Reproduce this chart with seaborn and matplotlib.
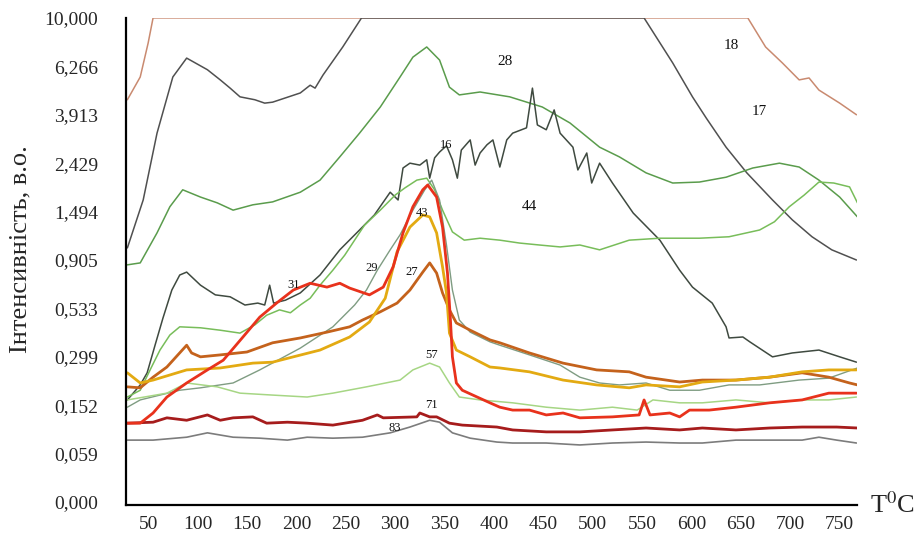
import numpy as np
import pandas as pd
import seaborn as sns
import matplotlib.pyplot as plt
from matplotlib.ticker import MultipleLocator

# y positions are in chart levels (0..10), labelled with the intensity values below
y_tick_labels = ['0,000', '0,059', '0,152', '0,299', '0,533', '0,905',
                 '1,494', '2,429', '3,913', '6,266', '10,000']

# curve 18
t18 = [29, 42, 50, 55, 657, 675, 692, 709, 719, 729, 750, 767]
p18 = [8.31, 8.78, 9.48, 10.0, 10.0, 9.40, 9.07, 8.72, 8.76, 8.51, 8.24, 8.00]

# curve 17
t17 = [29, 45, 59, 75, 89, 110, 123, 133, 143, 158, 168, 176, 204, 214, 219,
       227, 247, 266, 552, 581, 601, 615, 635, 656, 682, 702, 722, 742, 767]
p17 = [5.25, 6.24, 7.62, 8.78, 9.17, 8.93, 8.72, 8.55, 8.37, 8.31, 8.24, 8.26, 8.45, 8.61, 8.55,
       8.82, 9.40, 10.0, 10.0, 9.07, 8.37, 7.93, 7.33, 6.80, 6.24, 5.83, 5.48, 5.21, 5.00]

# curve 28
t28 = [29, 42, 59, 72, 85, 103, 120, 136, 156, 176, 204, 224, 244, 264, 285, 305, 318, 332, 345,
       355, 365, 386, 416, 449, 477, 507, 527, 554, 581, 608, 635, 662, 689, 709, 729, 750, 768]
p28 = [4.90, 4.94, 5.56, 6.10, 6.45, 6.30, 6.18, 6.03, 6.14, 6.20, 6.40, 6.65, 7.13, 7.62, 8.16, 8.78, 9.19, 9.40, 9.13,
       8.57, 8.41, 8.47, 8.37, 8.16, 7.83, 7.33, 7.13, 6.80, 6.59, 6.61, 6.71, 6.90, 7.00, 6.92, 6.65, 6.30, 5.89]

# curve 16
t16 = [29, 42, 49, 57, 65, 74, 82, 89, 103, 118, 133, 148, 161, 168, 173, 177, 189, 204, 224, 244,
       264, 279, 295, 303, 308, 315, 325, 332, 335, 340, 345, 352, 358, 363, 367, 376, 381, 386, 393, 399,
       406, 413, 419, 433, 439, 444, 453, 461, 467, 480, 485, 494, 499, 507, 520, 541, 568, 588, 601, 621,
       635, 638, 652, 659, 682, 702, 729, 750, 767]
p16 = [2.11, 2.42, 2.67, 3.24, 3.80, 4.38, 4.69, 4.75, 4.48, 4.28, 4.24, 4.07, 4.11, 4.07, 4.48, 4.11, 4.17, 4.32, 4.69, 5.21,
       5.62, 5.93, 6.40, 6.24, 6.90, 7.00, 6.96, 7.07, 6.69, 7.11, 7.23, 7.36, 7.07, 6.69, 7.27, 7.48, 6.96, 7.21, 7.38, 7.48,
       6.92, 7.48, 7.62, 7.73, 8.55, 7.79, 7.69, 8.10, 7.62, 7.33, 6.86, 7.21, 6.59, 7.00, 6.59, 5.97, 5.41, 4.79, 4.44, 4.11,
       3.62, 3.39, 3.41, 3.31, 3.00, 3.08, 3.14, 3.00, 2.89]

# curve 44
t44 = [29, 42, 52, 62, 72, 82, 103, 123, 143, 158, 170, 183, 194, 204, 214, 224, 237, 249, 259, 269,
       285, 300, 310, 322, 332, 340, 348, 358, 370, 386, 406, 426, 446, 467, 487, 507, 522, 537, 568, 608,
       638, 669, 684, 699, 714, 729, 744, 760, 768]
p44 = [2.17, 2.31, 2.73, 3.14, 3.45, 3.62, 3.60, 3.55, 3.49, 3.66, 3.86, 3.97, 3.91, 4.07, 4.21, 4.48, 4.79, 5.10, 5.41, 5.72,
       6.03, 6.34, 6.49, 6.65, 6.69, 6.45, 6.03, 5.58, 5.41, 5.45, 5.41, 5.35, 5.31, 5.27, 5.31, 5.21, 5.31, 5.41, 5.45, 5.45,
       5.48, 5.62, 5.79, 6.10, 6.34, 6.61, 6.59, 6.51, 6.18]

# curve 29
t29 = [29, 42, 62, 82, 103, 136, 163, 204, 237, 259, 271, 282, 295, 305, 318, 330, 337, 345, 352, 358,
       365, 376, 396, 406, 436, 467, 487, 507, 527, 554, 578, 608, 638, 669, 709, 739, 768]
p29 = [1.96, 2.11, 2.21, 2.31, 2.36, 2.46, 2.73, 3.18, 3.62, 4.07, 4.38, 4.79, 5.21, 5.52, 6.03, 6.45, 6.65, 6.24, 5.31, 4.38,
       3.76, 3.51, 3.31, 3.24, 3.04, 2.83, 2.58, 2.46, 2.42, 2.46, 2.31, 2.31, 2.42, 2.42, 2.52, 2.56, 2.77]

# curve 57
t57 = [29, 69, 89, 120, 143, 176, 211, 237, 271, 305, 318, 335, 345, 355, 365, 386, 419, 453, 487, 520,
       545, 561, 588, 611, 645, 679, 712, 739, 767]
p57 = [2.11, 2.25, 2.46, 2.38, 2.25, 2.21, 2.17, 2.25, 2.38, 2.52, 2.73, 2.87, 2.79, 2.46, 2.17, 2.11, 2.05, 1.96, 1.90, 1.96,
       1.90, 2.11, 2.05, 2.05, 2.11, 2.05, 2.11, 2.11, 2.17]

# curve 83
t83 = [29, 55, 89, 110, 136, 163, 191, 211, 237, 267, 295, 315, 335, 345, 358, 376, 403, 419, 453, 487,
       520, 554, 588, 611, 645, 679, 712, 729, 747, 767]
p83 = [1.28, 1.28, 1.34, 1.43, 1.34, 1.32, 1.28, 1.34, 1.32, 1.34, 1.43, 1.55, 1.69, 1.65, 1.43, 1.32, 1.24, 1.22, 1.22, 1.18,
       1.22, 1.24, 1.22, 1.22, 1.28, 1.28, 1.28, 1.34, 1.28, 1.22]

# curve 71
t71 = [29, 55, 69, 89, 110, 123, 136, 156, 170, 191, 211, 237, 267, 282, 288, 322, 325, 335, 342, 355,
       368, 403, 419, 453, 487, 520, 554, 588, 611, 645, 679, 712, 747, 768]
p71 = [1.63, 1.65, 1.74, 1.69, 1.80, 1.69, 1.74, 1.76, 1.63, 1.65, 1.63, 1.59, 1.69, 1.80, 1.74, 1.76, 1.84, 1.76, 1.76, 1.63,
       1.59, 1.55, 1.49, 1.45, 1.45, 1.49, 1.53, 1.49, 1.53, 1.49, 1.53, 1.55, 1.55, 1.53]

# curve 27
t27 = [29, 42, 55, 69, 89, 94, 103, 123, 150, 176, 204, 231, 254, 267, 285, 302, 315, 328, 335, 342,
       348, 355, 362, 376, 396, 406, 436, 470, 504, 537, 554, 588, 611, 645, 679, 712, 739, 760, 768]
p27 = [2.38, 2.36, 2.58, 2.79, 3.24, 3.08, 3.00, 3.04, 3.10, 3.29, 3.39, 3.51, 3.62, 3.76, 3.93, 4.11, 4.38, 4.75, 4.94, 4.73,
       4.32, 3.97, 3.70, 3.55, 3.35, 3.29, 3.08, 2.87, 2.73, 2.69, 2.58, 2.48, 2.52, 2.52, 2.58, 2.67, 2.58, 2.46, 2.42]

# curve 43
t43 = [29, 42, 55, 89, 123, 156, 176, 197, 224, 254, 274, 290, 302, 315, 328, 335, 342, 348, 352, 355,
       362, 376, 396, 406, 436, 470, 504, 537, 554, 588, 611, 645, 679, 712, 739, 767]
p43 = [2.67, 2.46, 2.52, 2.73, 2.77, 2.87, 2.89, 3.00, 3.14, 3.41, 3.72, 4.21, 5.17, 5.68, 5.93, 5.89, 5.56, 4.86, 4.32, 3.49,
       3.14, 3.00, 2.79, 2.77, 2.69, 2.52, 2.42, 2.36, 2.42, 2.38, 2.48, 2.52, 2.58, 2.69, 2.73, 2.73]

# curve 31
t31 = [29, 42, 55, 69, 89, 110, 126, 146, 163, 180, 197, 214, 231, 244, 254, 274, 288, 298, 308, 318,
       328, 333, 342, 348, 353, 356, 358, 362, 368, 383, 396, 406, 419, 436, 453, 470, 487, 520, 547, 552,
       558, 578, 588, 598, 618, 645, 679, 712, 739, 767]
p31 = [1.63, 1.63, 1.84, 2.17, 2.46, 2.73, 2.93, 3.41, 3.82, 4.11, 4.38, 4.52, 4.44, 4.52, 4.42, 4.28, 4.44, 4.86, 5.56, 6.10,
       6.45, 6.55, 6.30, 5.68, 4.73, 3.76, 3.00, 2.46, 2.31, 2.17, 2.05, 1.96, 1.90, 1.90, 1.80, 1.84, 1.74, 1.76, 1.80, 2.11,
       1.80, 1.84, 1.76, 1.90, 1.90, 1.96, 2.05, 2.11, 2.25, 2.25]

# curve labels and where they sit
label_text = ['18', '17', '28', '16', '44', '43', '29', '27', '31', '57', '71', '83']
label_t = [640, 669, 411, 352, 436, 327, 276, 317, 197, 337, 337, 300]
label_p = [9.44, 8.06, 9.09, 7.38, 6.10, 5.97, 4.83, 4.75, 4.48, 3.04, 2.00, 1.53]
label_size = [11, 11, 11, 9, 11, 9, 9, 9, 9, 9, 9, 9]

curves = [
    (t18, p18, '#c98a70', 1.1),
    (t17, p17, '#505050', 1.1),
    (t28, p28, '#5a9c4c', 1.1),
    (t16, p16, '#3f4a40', 1.1),
    (t44, p44, '#78bd5a', 1.1),
    (t29, p29, '#7f9c82', 1.0),
    (t57, p57, '#a6d684', 1.1),
    (t83, p83, '#7c7c7c', 1.2),
    (t71, p71, '#a61c1c', 2.0),
    (t27, p27, '#c4621c', 2.0),
    (t43, p43, '#e3aa12', 2.0),
    (t31, p31, '#e8321c', 2.0),
]

sns.set_style("white")
serif = ['Liberation Serif', 'DejaVu Serif']
plt.rcParams['font.family'] = serif
plt.rcParams['mathtext.fontset'] = 'stix'

fig = plt.figure(figsize=(9.19, 5.43), dpi=100)
ax = fig.add_axes([0.137, 0.070, 0.7955, 0.897])

for t, p, c, lw in curves:
    sns.lineplot(x=t, y=p, color=c, linewidth=lw, estimator=None, sort=False, ax=ax)

for txt, tx, py, fs in zip(label_text, label_t, label_p, label_size):
    ax.text(tx, py, txt, fontsize=fs, ha='center', va='center', color='#111111')

ax.set_xlim(27.5, 767.5)
ax.set_ylim(-0.06, 10.0)
ax.set_yticks(range(len(y_tick_labels)))
ax.set_yticklabels(y_tick_labels)
ax.xaxis.set_minor_locator(MultipleLocator(10))
ax.yaxis.set_minor_locator(MultipleLocator(0.2))
ax.set_xticks(range(50, 751, 50))
ax.tick_params(axis='both', which='major', labelsize=14, length=4, width=1, direction='out', color='black')
ax.tick_params(axis='both', which='minor', length=2, width=0.8, direction='out', color='black')
ax.tick_params(axis='x', pad=4)
ax.tick_params(axis='y', pad=16)

sns.despine(ax=ax)
for s in ['left', 'bottom']:
    ax.spines[s].set_color('black')
    ax.spines[s].set_linewidth(1.6)

fig.text(0.022, 0.541, 'Інтенсивність, в.о.', rotation=90, fontsize=19, ha='center', va='center')
fig.text(0.947, 0.07, r'T$^{0}$C', fontsize=19, ha='left', va='center')

fig.savefig('out.png', dpi=100)
